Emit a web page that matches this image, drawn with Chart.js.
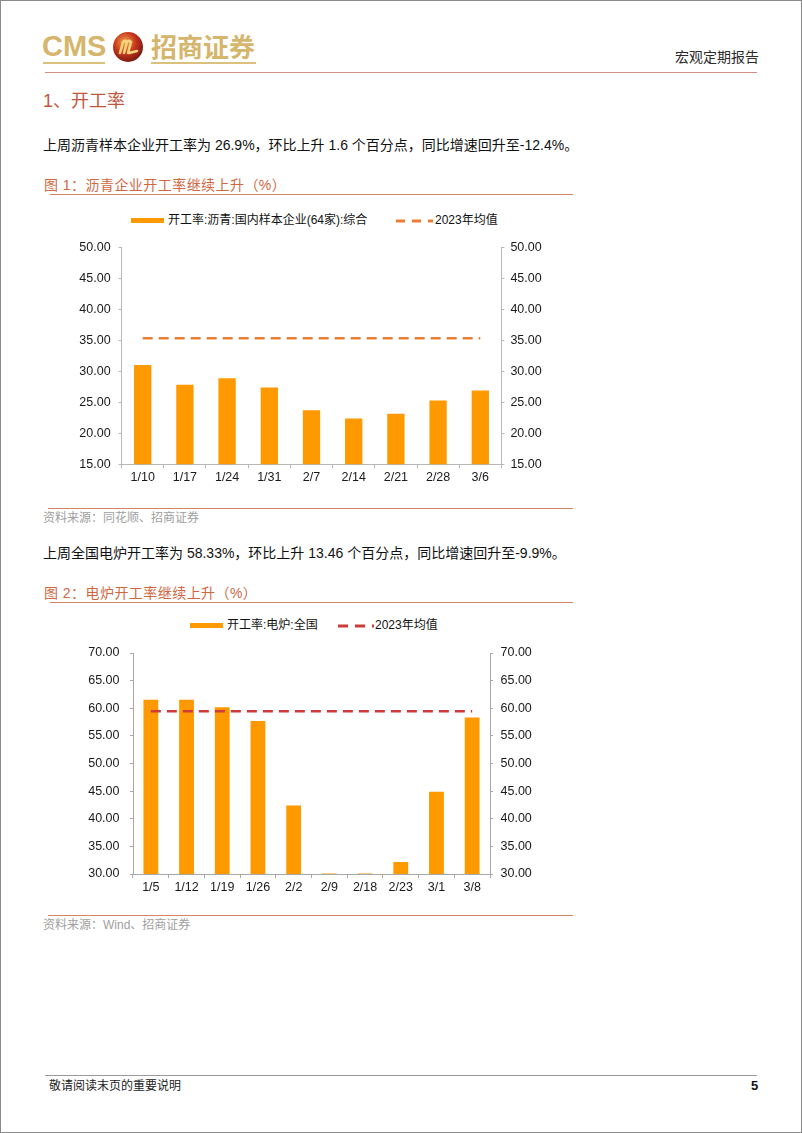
<!DOCTYPE html>
<html><head><meta charset="utf-8">
<script src="https://cdn.jsdelivr.net/npm/chart.js@4.4.1/dist/chart.umd.min.js"></script>
<style>
html,body{margin:0;padding:0;background:#fff;}
body{width:802px;height:1133px;position:relative;overflow:hidden;font-family:"Liberation Sans","Noto Sans CJK SC",sans-serif;}
#frame{position:absolute;left:0;top:0;width:800px;height:1131px;border:1px solid #8a8a8a;}
.t{position:absolute;white-space:nowrap;}
.hl{position:absolute;height:0;}
canvas{position:absolute;}
</style></head><body>
<div id="frame"></div>

<!-- header -->
<div class="t" style="left:42px;top:29px;font-size:29px;line-height:34px;font-weight:bold;color:#d6b56c;letter-spacing:0px;">CMS</div>
<div class="hl" style="left:43px;top:62px;width:62px;border-top:2px solid #dcc07e;"></div>
<svg style="position:absolute;left:112px;top:31px" width="32" height="32" viewBox="0 0 32 32">
 <defs><radialGradient id="lg" cx="40%" cy="35%" r="65%"><stop offset="0" stop-color="#f2a64a"/><stop offset="0.55" stop-color="#c8361e"/><stop offset="1" stop-color="#7e1a10"/></radialGradient></defs>
 <circle cx="16" cy="16" r="15" fill="url(#lg)"/>
 <path d="M8 22 L11 11 M12 22 L15 11 M16 22 L19 11 M11 11 Q13 9 15 11 M15 11 Q17 9 19 11 M17 22 L25 20" stroke="#f6d27a" stroke-width="2.6" fill="none" stroke-linecap="round"/>
</svg>
<div class="t" style="left:151px;top:28px;font-size:26px;line-height:36px;font-weight:bold;color:#d6b56c;font-family:'Noto Sans CJK SC';">招商证券</div>
<div class="hl" style="left:151px;top:62px;width:105px;border-top:2px solid #dcc07e;"></div>
<div class="t" style="left:675px;top:47px;font-size:14px;line-height:20px;color:#2a2a2a;">宏观定期报告</div>
<div class="hl" style="left:45px;top:72px;width:712px;border-top:1px solid #d68e80;"></div>

<div class="t" style="left:43px;top:90px;font-size:18px;line-height:22px;color:#c0573e;">1、开工率</div>
<div class="t" style="left:43px;top:135px;font-size:14px;line-height:20px;color:#111;">上周沥青样本企业开工率为 26.9%，环比上升 1.6 个百分点，同比增速回升至-12.4%。</div>

<div class="t" style="left:44px;top:175px;font-size:14px;line-height:20px;color:#d0673f;letter-spacing:0.45px;">图 1：沥青企业开工率继续上升（%）</div>
<div class="hl" style="left:50px;top:194px;width:523px;border-top:1.5px solid #d9826a;"></div>

<!-- legend 1 -->
<div style="position:absolute;left:131px;top:218px;width:33px;height:5px;background:#ff9900;"></div>
<div class="t" style="left:168px;top:211px;font-size:12px;line-height:18px;color:#111;">开工率:沥青:国内样本企业(64家):综合</div>
<svg style="position:absolute;left:396px;top:219px" width="37" height="4"><line x1="0" y1="2" x2="37" y2="2" stroke="#ed7d31" stroke-width="3" stroke-dasharray="9 7"/></svg>
<div class="t" style="left:435px;top:211px;font-size:12px;line-height:18px;color:#111;">2023年均值</div>

<canvas id="c1" width="520" height="258" style="left:40px;top:232px;width:520px;height:258px;"></canvas>

<div class="hl" style="left:48px;top:508px;width:525px;border-top:1.5px solid #d9826a;"></div>
<div class="t" style="left:43px;top:509px;font-size:12px;line-height:18px;color:#a0a0a0;">资料来源：同花顺、招商证券</div>

<div class="t" style="left:43px;top:543px;font-size:14px;line-height:20px;color:#111;">上周全国电炉开工率为 58.33%，环比上升 13.46 个百分点，同比增速回升至-9.9%。</div>

<div class="t" style="left:44px;top:583px;font-size:14px;line-height:20px;color:#d0673f;letter-spacing:0.45px;">图 2：电炉开工率继续上升（%）</div>
<div class="hl" style="left:50px;top:602px;width:523px;border-top:1.5px solid #d9826a;"></div>

<!-- legend 2 -->
<div style="position:absolute;left:190px;top:623px;width:33px;height:5px;background:#ff9900;"></div>
<div class="t" style="left:227px;top:616px;font-size:12px;line-height:18px;color:#111;">开工率:电炉:全国</div>
<svg style="position:absolute;left:338px;top:624px" width="36" height="4"><line x1="0" y1="2" x2="36" y2="2" stroke="#cf3a3a" stroke-width="3" stroke-dasharray="10 7"/></svg>
<div class="t" style="left:375px;top:616px;font-size:12px;line-height:18px;color:#111;">2023年均值</div>

<canvas id="c2" width="520" height="264" style="left:40px;top:635px;width:520px;height:264px;"></canvas>

<div class="hl" style="left:48px;top:915px;width:525px;border-top:1.5px solid #d9826a;"></div>
<div class="t" style="left:43px;top:916px;font-size:12px;line-height:18px;color:#a0a0a0;">资料来源：Wind、招商证券</div>

<!-- footer -->
<div class="hl" style="left:45px;top:1075px;width:712px;border-top:1px solid #9a9a9a;"></div>
<div class="t" style="left:49px;top:1077px;font-size:12px;line-height:18px;color:#222;">敬请阅读末页的重要说明</div>
<div class="t" style="left:751px;top:1077px;font-size:13px;line-height:18px;font-weight:bold;color:#111;">5</div>

<script>
// ---- Data: chart 1 (asphalt) ----
const asphaltWeeks = ['1/10','1/17','1/24','1/31','2/7','2/14','2/21','2/28','3/6'];
const asphaltRate = [31.03, 27.83, 28.88, 27.39, 23.71, 22.38, 23.18, 25.31, 26.90];
const asphaltAvg2023 = [35.36, 35.36, 35.36, 35.36, 35.36, 35.36, 35.36, 35.36, 35.36];
const asphaltAxis = {min: 15, max: 50, step: 5};

// ---- Data: chart 2 (electric arc furnace) ----
const eafWeeks = ['1/5','1/12','1/19','1/26','2/2','2/9','2/18','2/23','3/1','3/8'];
const eafRate = [61.52, 61.55, 60.20, 57.68, 42.39, 30.10, 30.10, 32.19, 44.87, 58.33];
const eafAvg2023 = [59.46, 59.46, 59.46, 59.46, 59.46, 59.46, 59.46, 59.46, 59.46, 59.46];
const eafAxis = {min: 30, max: 70, step: 5};

const BAR = '#ff9900';
const tickFont = {family: 'Liberation Sans', size: 12.5};
const tickColor = '#1a1a1a';

function makeChart(id, labels, bars, avg, axis, lineColor, cfg) {
  const yBase = (pos, width, pad) => ({
    position: pos, min: axis.min, max: axis.max,
    ticks: {stepSize: axis.step, callback: v => Number(v).toFixed(2), font: tickFont, color: tickColor, padding: pad},
    grid: {drawOnChartArea: false, drawTicks: true, tickLength: 3, color: cfg.axisColor},
    border: {display: true, color: cfg.axisColor, width: 1},
    afterFit(s) { s.width = width; }
  });
  return new Chart(document.getElementById(id), {
    type: 'bar',
    data: {
      labels: labels,
      datasets: [
        {type: 'line', data: avg, borderColor: lineColor, borderWidth: 2.5, borderDash: [10, 6],
         pointRadius: 0, fill: false, order: 0, yAxisID: 'y'},
        {type: 'bar', data: bars, backgroundColor: BAR, borderWidth: 0,
         barPercentage: cfg.barPct, categoryPercentage: 1, order: 1, yAxisID: 'y'}
      ]
    },
    options: {
      responsive: false, animation: false, devicePixelRatio: 1,
      layout: {padding: {top: cfg.padTop, left: 0, right: 0, bottom: 0}},
      plugins: {legend: {display: false}, tooltip: {enabled: false}},
      scales: {
        x: {
          grid: {offset: true, drawOnChartArea: false, drawTicks: true, tickLength: 4, color: cfg.axisColor},
          border: {display: true, color: cfg.axisColor, width: 1},
          ticks: {font: tickFont, color: tickColor, padding: 2, maxRotation: 0, autoSkip: false},
          afterFit(s) { s.height = cfg.xH; }
        },
        y: yBase('left', cfg.leftW, cfg.leftPad),
        y2: yBase('right', cfg.rightW, cfg.rightPad)
      }
    }
  });
}

makeChart('c1', asphaltWeeks, asphaltRate, asphaltAvg2023, asphaltAxis, '#ed7d31',
  {padTop: 14, xH: 25.7, leftW: 81.6, rightW: 58.6, leftPad: 8, rightPad: 6, barPct: 0.41, axisColor: '#b8b8b8'});
makeChart('c2', eafWeeks, eafRate, eafAvg2023, eafAxis, '#cf3a3a',
  {padTop: 14, xH: 25, leftW: 93, rightW: 70, leftPad: 10.5, rightPad: 7.5, barPct: 0.415, axisColor: '#a8a8a8'});
</script>
</body></html>
